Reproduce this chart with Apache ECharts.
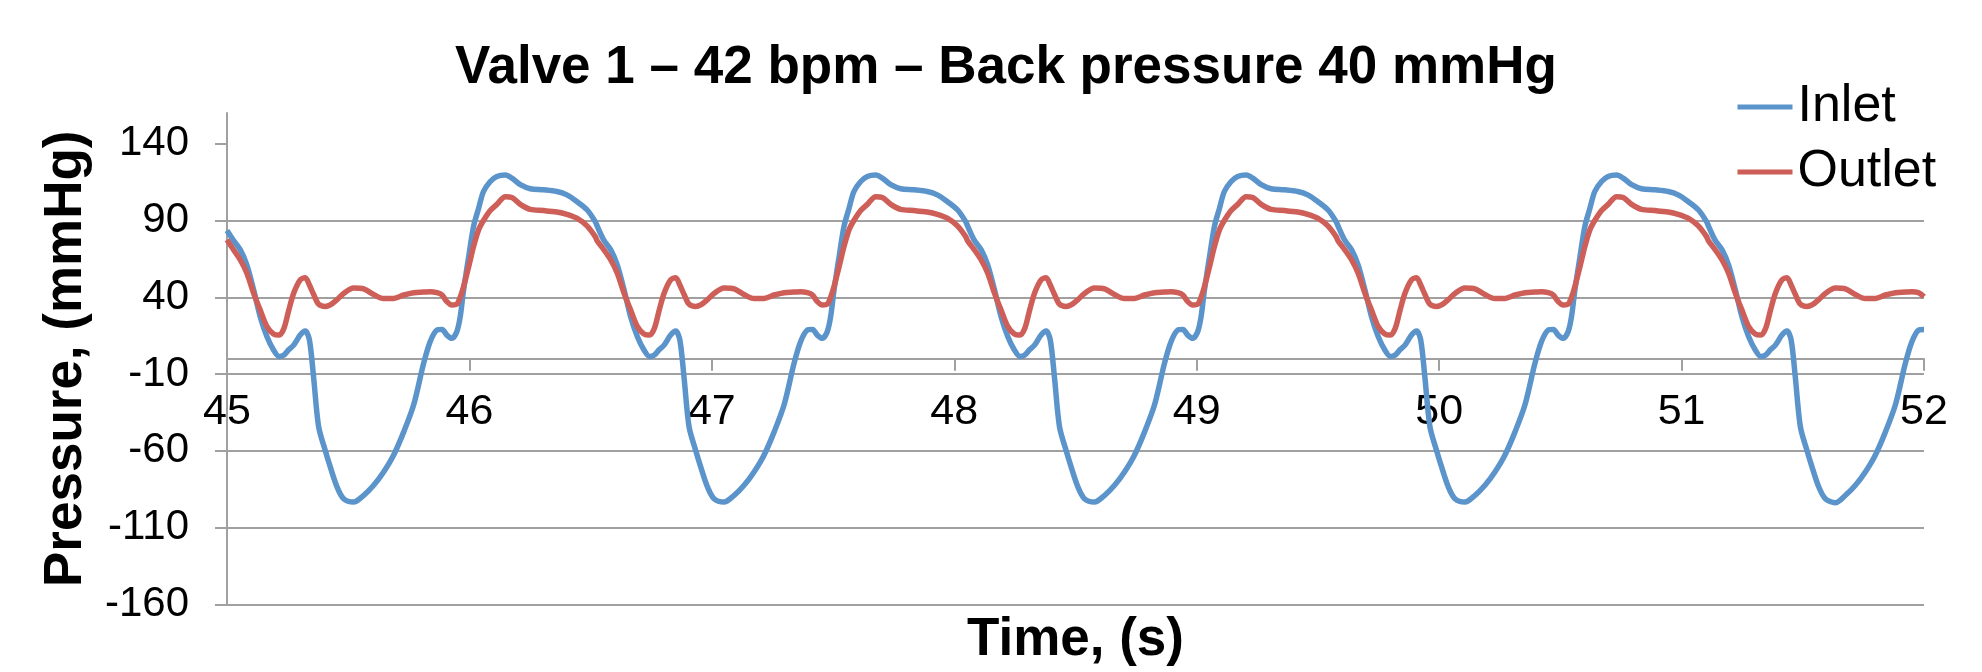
<!DOCTYPE html>
<html>
<head>
<meta charset="utf-8">
<script src="https://cdn.jsdelivr.net/npm/echarts@6/dist/echarts.min.js"></script>
<style>
html,body{margin:0;padding:0;background:#fff;}
#chart{width:1982px;height:672px;}
</style>
</head>
<body>
<div id="chart"></div>
<script>
const titleText = 'Valve 1 – 42 bpm – Back pressure 40 mmHg';
const seriesNames = ['Inlet', 'Outlet'];
const yTicks = [-160, -110, -60, -10, 40, 90, 140];

const time = [
45.000,45.027,45.055,45.082,45.110,45.137,45.165,45.192,45.215,45.235,45.255,45.275,45.302,45.323,45.340,45.357,45.378,45.405,45.426,45.454,45.481,45.522,45.564,45.605,45.646,45.687,45.729,45.770,45.811,45.838,45.866,45.887,45.907,45.928,45.948,45.962,45.976,45.997,46.017,46.038,46.058,46.086,46.113,46.148,46.175,46.210,46.251,46.306,46.361,46.402,46.443,46.485,46.519,
46.528,46.555,46.583,46.610,46.638,46.665,46.693,46.720,46.743,46.763,46.783,46.803,46.830,46.851,46.868,46.885,46.906,46.933,46.954,46.982,47.009,47.050,47.092,47.133,47.174,47.215,47.257,47.298,47.339,47.366,47.394,47.415,47.435,47.456,47.476,47.490,47.504,47.525,47.545,47.566,47.586,47.614,47.641,47.676,47.703,47.738,47.779,47.834,47.889,47.930,47.971,48.013,48.047,
48.056,48.083,48.111,48.138,48.166,48.193,48.221,48.248,48.271,48.291,48.311,48.331,48.358,48.379,48.396,48.413,48.434,48.461,48.482,48.510,48.537,48.578,48.620,48.661,48.702,48.743,48.785,48.826,48.867,48.894,48.922,48.943,48.963,48.984,49.004,49.018,49.032,49.053,49.073,49.094,49.114,49.142,49.169,49.204,49.231,49.266,49.307,49.362,49.417,49.458,49.499,49.541,49.575,
49.584,49.611,49.639,49.666,49.694,49.721,49.749,49.776,49.799,49.819,49.839,49.859,49.886,49.907,49.924,49.941,49.962,49.989,50.010,50.038,50.065,50.106,50.148,50.189,50.230,50.271,50.313,50.354,50.395,50.422,50.450,50.471,50.491,50.512,50.532,50.546,50.560,50.581,50.601,50.622,50.642,50.670,50.697,50.732,50.759,50.794,50.835,50.890,50.945,50.986,51.027,51.069,51.103,
51.112,51.139,51.167,51.194,51.222,51.249,51.277,51.304,51.327,51.347,51.367,51.387,51.414,51.435,51.452,51.469,51.490,51.517,51.538,51.566,51.593,51.634,51.676,51.717,51.758,51.799,51.841,51.882,51.923,51.950,51.978,52.000
];

const inlet = [
83.5,77.0,70.9,61.0,44.8,27.4,14.3,5.7,1.5,2.5,6.0,8.9,15.4,18.0,12.2,-11.7,-44.3,-59.6,-70.4,-83.5,-91.1,-93.3,-88.9,-82.4,-73.7,-62.8,-47.6,-30.0,-3.0,11.1,18.7,19.1,15.4,13.3,17.6,27.4,44.8,66.5,86.1,98.0,108.9,115.4,118.7,119.6,117.6,113.3,110.7,110.0,108.9,106.7,102.4,97.0,89.3,
86.0,77.0,70.9,61.0,44.8,27.4,14.3,5.7,1.5,2.5,6.0,8.9,15.4,18.0,12.2,-11.7,-44.3,-59.6,-70.4,-83.5,-91.1,-93.3,-88.9,-82.4,-73.7,-62.8,-47.6,-30.0,-3.0,11.1,18.7,19.1,15.4,13.3,17.6,27.4,44.8,66.5,86.1,98.0,108.9,115.4,118.7,119.6,117.6,113.3,110.7,110.0,108.9,106.7,102.4,97.0,89.3,
86.0,77.0,70.9,61.0,44.8,27.4,14.3,5.7,1.5,2.5,6.0,8.9,15.4,18.0,12.2,-11.7,-44.3,-59.6,-70.4,-83.5,-91.1,-93.3,-88.9,-82.4,-73.7,-62.8,-47.6,-30.0,-3.0,11.1,18.7,19.1,15.4,13.3,17.6,27.4,44.8,66.5,86.1,98.0,108.9,115.4,118.7,119.6,117.6,113.3,110.7,110.0,108.9,106.7,102.4,97.0,89.3,
86.0,77.0,70.9,61.0,44.8,27.4,14.3,5.7,1.5,2.5,6.0,8.9,15.4,18.0,12.2,-11.7,-44.3,-59.6,-70.4,-83.5,-91.1,-93.3,-88.9,-82.4,-73.7,-62.8,-47.6,-30.0,-3.0,11.1,18.7,19.1,15.4,13.3,17.6,27.4,44.8,66.5,86.1,98.0,108.9,115.4,118.7,119.6,117.6,113.3,110.7,110.0,108.9,106.7,102.4,97.0,89.3,
86.0,77.0,70.9,61.0,44.8,27.4,14.3,5.7,1.5,2.5,6.0,8.9,15.4,18.0,12.2,-11.7,-44.3,-59.6,-70.4,-83.5,-91.1,-93.8,-88.9,-82.4,-73.7,-62.8,-47.6,-30.0,-3.0,11.1,18.7,19.1
];

const outlet = [
77.4,70.9,64.3,55.7,42.6,31.7,20.9,16.1,15.4,19.8,31.7,42.6,51.3,52.8,48.0,42.0,35.5,34.0,35.0,38.5,42.5,46.1,45.5,41.8,39.2,39.3,41.5,43.0,43.4,43.7,43.0,41.5,37.2,35.0,35.5,40.0,47.0,60.0,73.0,84.0,90.0,96.5,100.5,105.5,105.0,100.5,97.2,96.5,95.5,94.0,91.5,86.5,79.5,
76.5,70.9,64.3,55.7,42.6,31.7,20.9,16.1,15.4,19.8,31.7,42.6,51.3,52.8,48.0,42.0,35.5,34.0,35.0,38.5,42.5,46.1,45.5,41.8,39.2,39.3,41.5,43.0,43.4,43.7,43.0,41.5,37.2,35.0,35.5,40.0,47.0,60.0,73.0,84.0,90.0,96.5,100.5,105.5,105.0,100.5,97.2,96.5,95.5,94.0,91.5,86.5,79.5,
76.5,70.9,64.3,55.7,42.6,31.7,20.9,16.1,15.4,19.8,31.7,42.6,51.3,52.8,48.0,42.0,35.5,34.0,35.0,38.5,42.5,46.1,45.5,41.8,39.2,39.3,41.5,43.0,43.4,43.7,43.0,41.5,37.2,35.0,35.5,40.0,47.0,60.0,73.0,84.0,90.0,96.5,100.5,105.5,105.0,100.5,97.2,96.5,95.5,94.0,91.5,86.5,79.5,
76.5,70.9,64.3,55.7,42.6,31.7,20.9,16.1,15.4,19.8,31.7,42.6,51.3,52.8,48.0,42.0,35.5,34.0,35.0,38.5,42.5,46.1,45.5,41.8,39.2,39.3,41.5,43.0,43.4,43.7,43.0,41.5,37.2,35.0,35.5,40.0,47.0,60.0,73.0,84.0,90.0,96.5,100.5,105.5,105.0,100.5,97.2,96.5,95.5,94.0,91.5,86.5,79.5,
76.5,70.9,64.3,55.7,42.6,31.7,20.9,16.1,15.4,19.8,31.7,42.6,51.3,52.8,48.0,42.0,35.5,34.0,35.0,38.5,42.5,46.1,45.5,41.8,39.2,39.3,41.5,43.0,43.4,43.7,43.0,40.4
];

const BLUE = '#5B93CB';
const RED = '#CE5E58';
const GRID = '#a0a0a0';
const FONT = '"Liberation Sans", Arial, sans-serif';

const chart = echarts.init(document.getElementById('chart'), null, {renderer: 'canvas'});
const option = {
  animation: false,
  backgroundColor: '#ffffff',
  textStyle: {fontFamily: FONT},
  title: {
    text: titleText,
    left: 455,
    top: 42,
    padding: 0,
    textStyle: {fontFamily: FONT, fontSize: 53, fontWeight: 'bold', color: '#000'}
  },
  legend: {
    orient: 'vertical',
    left: 1735,
    top: 81,
    padding: 0,
    itemWidth: 55,
    itemHeight: 5,
    itemGap: 13,
    data: seriesNames,
    lineStyle: {width: 5},
    textStyle: {fontFamily: FONT, fontSize: 52, color: '#000'}
  },
  grid: {left: 227, right: 58, top: 113, bottom: 67.5, containLabel: false, outerBoundsMode: 'none'},
  xAxis: {
    type: 'value',
    min: 45,
    max: 52,
    interval: 1,
    name: 'Time, (s)',
    nameLocation: 'middle',
    nameGap: 9.5,
    nameMoveOverlap: false,
    nameTextStyle: {fontFamily: FONT, fontSize: 53, fontWeight: 'bold', color: '#000'},
    axisLine: {show: true, onZero: true, lineStyle: {color: GRID, width: 2}},
    axisTick: {show: true, length: 12, lineStyle: {color: GRID, width: 2}},
    axisLabel: {fontFamily: FONT, fontSize: 43, color: '#000', margin: -213.5},
    splitLine: {show: false}
  },
  yAxis: {
    type: 'value',
    min: -160,
    max: 160,
    interval: 50,
    name: 'Pressure, (mmHg)',
    nameLocation: 'middle',
    nameRotate: 90,
    nameGap: 134,
    nameTextStyle: {fontFamily: FONT, fontSize: 53, fontWeight: 'bold', color: '#000'},
    axisLine: {show: true, onZero: false, lineStyle: {color: GRID, width: 2}},
    axisTick: {show: true, length: 12, customValues: yTicks, lineStyle: {color: GRID, width: 2}},
    axisLabel: {fontFamily: FONT, fontSize: 42, color: '#000', margin: 38, customValues: yTicks},
    splitLine: {show: true, showMaxLine: false, lineStyle: {color: GRID, width: 2}}
  },
  series: [
    {
      name: seriesNames[0],
      type: 'line',
      data: time.map((t, i) => [t, inlet[i]]),
      showSymbol: false,
      symbol: 'circle',
      symbolSize: 6,
      smooth: 0.3,
      lineStyle: {color: BLUE, width: 5.5},
      itemStyle: {color: BLUE}
    },
    {
      name: seriesNames[1],
      type: 'line',
      data: time.map((t, i) => [t, outlet[i]]),
      showSymbol: false,
      symbol: 'circle',
      symbolSize: 6,
      smooth: 0.3,
      lineStyle: {color: RED, width: 5.5},
      itemStyle: {color: RED}
    }
  ]
};
chart.setOption(option);
</script>
</body>
</html>
